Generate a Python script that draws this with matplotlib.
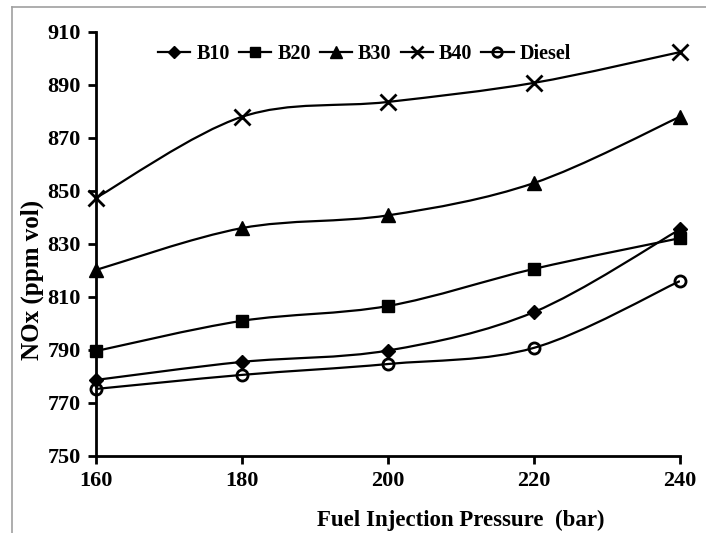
import matplotlib
matplotlib.use("Agg")
import matplotlib.pyplot as plt
import numpy as np
from matplotlib.path import Path
from matplotlib.patches import PathPatch
from matplotlib.lines import Line2D

pressure = [160, 180, 200, 220, 240]
b10 = [778.7, 785.5, 789.8, 804.3, 835.5]
b20 = [789.6, 801.0, 806.6, 820.6, 832.2]
b30 = [820.2, 836.0, 840.8, 853.0, 878.0]
b40 = [847.4, 878.0, 883.6, 890.8, 902.4]
diesel = [775.3, 780.6, 784.7, 790.8, 816.0]

series_names = ["B10", "B20", "B30", "B40", "Diesel"]
series_vals = [b10, b20, b30, b40, diesel]
xticks = [160, 180, 200, 220, 240]
yticks = [750, 770, 790, 810, 830, 850, 870, 890, 910]

markers = {"B10": dict(marker="D", ms=7, mfc="black"),
           "B20": dict(marker="s", ms=8, mfc="black"),
           "B30": dict(marker="^", ms=10, mfc="black"),
           "B40": dict(marker="x", ms=11, mew=2),
           "Diesel": dict(marker="o", ms=8, mfc="none", mew=2)}

plt.rcParams['font.family'] = ['Liberation Serif', 'DejaVu Serif']
plt.rcParams['font.weight'] = 'bold'

fig = plt.figure(figsize=(7.06, 5.33), dpi=100)
ax = fig.add_axes([0.136, 0.1445, 0.827, 0.7955])


def smooth_path(xs, ys):
    pts = np.column_stack([xs, ys]).astype(float)
    n = len(pts)
    verts = [pts[0]]
    codes = [Path.MOVETO]
    for i in range(n - 1):
        p0 = pts[i - 1] if i > 0 else pts[i]
        p1 = pts[i]
        p2 = pts[i + 1]
        p3 = pts[i + 2] if i + 2 < n else pts[i + 1]
        c1 = p1 + (p2 - p0) / 6.0
        c2 = p2 - (p3 - p1) / 6.0
        verts += [c1, c2, p2]
        codes += [Path.CURVE4] * 3
    return Path(verts, codes)


handles = []
for name, vals in zip(series_names, series_vals):
    patch = PathPatch(smooth_path(pressure, vals), facecolor="none",
                      edgecolor="black", lw=1.6, zorder=2)
    ax.add_patch(patch)
    ax.plot(pressure, vals, linestyle="none", color="black", zorder=3,
            clip_on=False, **markers[name])
    lm = dict(markers[name])
    lm["ms"] = lm["ms"] * 0.85
    handles.append(Line2D([], [], color="black", lw=1.6, **lm))

ax.set_xlim(160, 240)
ax.set_ylim(750, 910)
ax.set_xticks(xticks)
ax.set_yticks(yticks)
for s in ["top", "right"]:
    ax.spines[s].set_visible(False)
for s in ["left", "bottom"]:
    ax.spines[s].set_linewidth(2)
ax.tick_params(direction="out", length=6, width=2, labelsize=16, pad=5)
for lab in ax.get_xticklabels() + ax.get_yticklabels():
    lab.set_fontweight("bold")

xl = ax.set_xlabel("Fuel Injection Pressure  (bar)", fontsize=16.5, fontweight="bold")
yl = ax.set_ylabel("NOx (ppm vol)", fontsize=18, fontweight="bold")
ax.xaxis.set_label_coords(0.625, -0.151)
xl.set_verticalalignment("center")
ax.yaxis.set_label_coords(-0.11, 0.415)
yl.set_verticalalignment("center")

leg = ax.legend(handles, series_names, loc="center", bbox_to_anchor=(0.46, 0.948),
                ncol=5, frameon=False, fontsize=14.5, handlelength=1.6,
                columnspacing=0.45, handletextpad=0.3, borderaxespad=0)
for t in leg.get_texts():
    t.set_fontweight("bold")

# outer chart border (partially cropped)
fig.add_artist(Line2D([12 / 706, 1.0], [1 - 7 / 533, 1 - 7 / 533],
                      color="#a0a0a0", lw=1.2, transform=fig.transFigure))
fig.add_artist(Line2D([12 / 706, 12 / 706], [0, 1 - 7 / 533],
                      color="#a0a0a0", lw=1.2, transform=fig.transFigure))

fig.savefig("out.png", dpi=100)
